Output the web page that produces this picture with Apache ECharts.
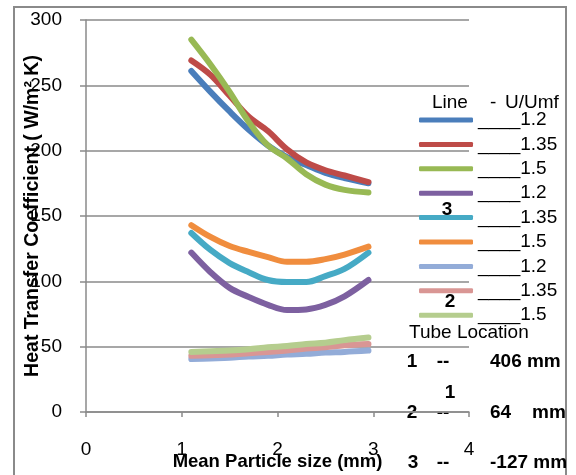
<!DOCTYPE html>
<html>
<head>
<meta charset="utf-8">
<script src="https://cdn.jsdelivr.net/npm/echarts@6/dist/echarts.min.js"></script>
<style>
  html, body { margin: 0; padding: 0; background: #fff; }
  #chart { width: 576px; height: 475px; }
</style>
</head>
<body>
<div id="chart"></div>
<script>
// Mean particle size (mm)
const xs = [1.1, 1.3, 1.5, 1.7, 1.9, 2.1, 2.3, 2.5, 2.7, 2.95];

// Tube location 1 (406 mm)
const loc1_u12  = [261, 245, 230, 216, 204, 195, 189, 183, 179, 175];
const loc1_u135 = [269, 258, 242, 226, 215, 201, 191, 185, 181, 176];
const loc1_u15  = [285, 266, 245, 222, 204, 194, 182, 174, 170, 168];
// Tube location 3 (-127 mm)
const loc3_u12  = [122, 107, 95, 88, 82, 78, 78.5, 82, 88.5, 101];
const loc3_u135 = [137, 124, 114, 107, 101, 99.5, 99.5, 104, 109.5, 122];
const loc3_u15  = [143, 134, 127, 122.5, 118.5, 115, 115, 117, 120.5, 126.5];
// Tube location 2 (64 mm)
const loc2_u12  = [40.5, 41, 41.5, 42.5, 43, 44, 44.5, 45.5, 46, 47];
const loc2_u135 = [43, 43.5, 44, 45, 46, 47, 48.5, 49.5, 51, 52];
const loc2_u15  = [46, 46.5, 47, 48, 49.5, 50.5, 52, 53, 55, 57];

const seriesValues = [loc1_u12, loc1_u135, loc1_u15, loc3_u12, loc3_u135, loc3_u15, loc2_u12, loc2_u135, loc2_u15];
const legendLabels = ['____1.2', '____1.35', '____1.5', '____1.2', '____1.35', '____1.5', '____1.2', '____1.35', '____1.5'];
const seriesIds = ['s1', 's2', 's3', 's4', 's5', 's6', 's7', 's8', 's9'];
const colors = ['#4A7EBB', '#BE4B48', '#98B954', '#7D60A0', '#46AAC5', '#F08D3E', '#93ACD8', '#D99694', '#B5CD8E'];

const xTicks = { min: 0, max: 4, interval: 1 };
const yTicks = { min: 0, max: 300, interval: 50 };

const FONT = 'Liberation Sans';
const FS = 19;
const GRAY = '#8A8A8A';

const chart = echarts.init(document.getElementById('chart'), null, { renderer: 'canvas' });

const series = seriesValues.map((vals, i) => ({
  name: seriesIds[i],
  type: 'line',
  smooth: 0.35,
  showSymbol: false,
  symbol: 'none',
  color: colors[i],
  lineStyle: { width: 6, color: colors[i], cap: 'round', join: 'round' },
  data: xs.map((x, j) => [x, vals[j]])
}));

function txt(text, x, y, opts) {
  return {
    type: 'text',
    x: x, y: y,
    style: Object.assign({
      text: text, fill: '#000', fontFamily: FONT, fontSize: FS,
      align: 'left', verticalAlign: 'middle'
    }, opts || {})
  };
}

chart.setOption({
  backgroundColor: '#fff',
  animation: false,
  grid: { left: 86, right: 107, top: 20, bottom: 63, outerBoundsMode: 'none', containLabel: false },
  xAxis: {
    type: 'value',
    min: xTicks.min, max: xTicks.max, interval: xTicks.interval,
    name: 'Mean Particle size (mm)',
    nameLocation: 'middle',
    nameGap: 40,
    nameMoveOverlap: false,
    nameTextStyle: { fontFamily: FONT, fontSize: 18.5, fontWeight: 'bold', color: '#000' },
    axisLine: { show: true, lineStyle: { color: GRAY, width: 1.5 } },
    axisTick: { show: true, length: 5, lineStyle: { color: GRAY, width: 1.5 } },
    splitLine: { show: false },
    axisLabel: { margin: 28, fontFamily: FONT, fontSize: FS, color: '#000' }
  },
  yAxis: {
    type: 'value',
    min: yTicks.min, max: yTicks.max, interval: yTicks.interval,
    name: 'Heat Transfer Coefficient ( W/m² K)',
    nameLocation: 'middle',
    nameGap: 43,
    nameRotate: 90,
    nameMoveOverlap: false,
    nameTextStyle: { fontFamily: FONT, fontSize: 19.5, fontWeight: 'bold', color: '#000' },
    axisLine: { show: true, lineStyle: { color: GRAY, width: 1.5 } },
    axisTick: { show: true, length: 6, lineStyle: { color: GRAY, width: 1.5 } },
    splitLine: { show: true, lineStyle: { color: GRAY, width: 1.5 } },
    axisLabel: { margin: 24, fontFamily: FONT, fontSize: FS, color: '#000' }
  },
  legend: {
    orient: 'vertical',
    left: 419,
    top: 110,
    padding: 0,
    itemWidth: 54,
    itemHeight: 5,
    itemGap: 4.4,
    icon: 'roundRect',
    data: seriesIds,
    formatter: function (name) { return legendLabels[seriesIds.indexOf(name)]; },
    textStyle: { fontFamily: FONT, fontSize: FS, color: '#000', lineHeight: 20 }
  },
  graphic: [
    { type: 'rect', shape: { x: 14, y: 7, width: 552, height: 480 }, style: { fill: 'none', stroke: GRAY, lineWidth: 2 }, silent: true },
    txt('Line', 432, 103),
    txt('-', 490, 103),
    txt('U/Umf', 505, 103),
    txt('3', 447, 210, { fontWeight: 'bold', align: 'center' }),
    txt('2', 450, 302, { fontWeight: 'bold', align: 'center' }),
    txt('Tube Location', 409, 333),
    txt('1', 412, 362, { fontWeight: 'bold', align: 'center' }),
    txt('--', 443, 362, { fontWeight: 'bold', align: 'center' }),
    txt('406 mm', 490, 362, { fontWeight: 'bold' }),
    txt('1', 450, 393, { fontWeight: 'bold', align: 'center' }),
    txt('2', 412, 413, { fontWeight: 'bold', align: 'center' }),
    txt('--', 443, 413, { fontWeight: 'bold', align: 'center' }),
    txt('64', 490, 413, { fontWeight: 'bold' }),
    txt('mm', 532, 413, { fontWeight: 'bold' }),
    txt('3', 413, 463, { fontWeight: 'bold', align: 'center' }),
    txt('--', 443, 463, { fontWeight: 'bold', align: 'center' }),
    txt('-127 mm', 490, 463, { fontWeight: 'bold' })
  ],
  series: series
});
</script>
</body>
</html>
